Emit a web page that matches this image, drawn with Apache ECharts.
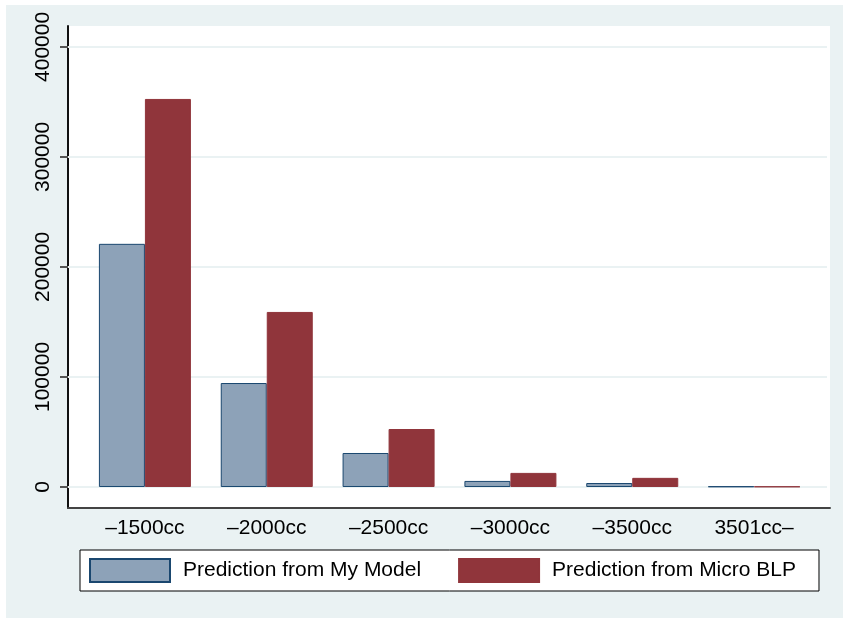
<!DOCTYPE html>
<html>
<head>
<meta charset="utf-8">
<script src="https://cdn.jsdelivr.net/npm/echarts@6/dist/echarts.min.js"></script>
<style>
html,body{margin:0;padding:0;background:#fff;}
#chart{width:843px;height:618px;}
</style>
</head>
<body>
<div id="chart"></div>
<script>
var categories = ["\u20131500cc","\u20132000cc","\u20132500cc","\u20133000cc","\u20133500cc","3501cc\u2013"];
var myModel = [221000, 94500, 30900, 5500, 3600, 500];
var microBLP = [352700, 159100, 52700, 12800, 8300, 400];
var yTicks = [0, 100000, 200000, 300000, 400000];
var seriesNames = ["Prediction from My Model","Prediction from Micro BLP"];

var yMin = -19100, yMax = 419000;
var font = "Liberation Sans, Arial, sans-serif";

var chart = echarts.init(document.getElementById("chart"));
var option = {
	backgroundColor: "#EAF2F3",
	animation: false,
	graphic: [
		{type:"rect", shape:{x:0,y:0,width:843,height:5}, style:{fill:"#fff"}, silent:true},
		{type:"rect", shape:{x:0,y:0,width:6,height:618}, style:{fill:"#fff"}, silent:true}
	],
	grid: [
		{left:68, right:13, top:26, bottom:110, show:true, backgroundColor:"#fff", borderWidth:0},
		{left:84, right:28, top:26, bottom:110}
	],
	xAxis: [
		{gridIndex:0, type:"value", min:0, max:1,
		 axisLine:{show:true, onZero:false, lineStyle:{color:"#444", width:2}},
		 axisTick:{show:false}, axisLabel:{show:false}, splitLine:{show:false}},
		{gridIndex:1, type:"category", data:categories,
		 axisLine:{show:false, onZero:false}, axisTick:{show:false},
		 axisLabel:{color:"#000", fontSize:21, fontFamily:font, margin:10}}
	],
	yAxis: [
		{gridIndex:0, type:"value", min:yMin, max:yMax,
		 axisLine:{show:true, onZero:false, lineStyle:{color:"#111", width:2}},
		 axisTick:{show:true, length:8, customValues:yTicks, lineStyle:{color:"#555", width:2}},
		 axisLabel:{show:true, rotate:90, customValues:yTicks, color:"#000", fontSize:21, fontFamily:font, margin:14,
		  formatter:function(v){ return String(v); }},
		 splitLine:{show:false}},
		{gridIndex:1, type:"value", min:yMin, max:yMax, show:false, splitLine:{show:false}},
		{gridIndex:0, type:"value", min:yMin, max:yMax, position:"left",
		 axisLine:{show:false, onZero:false}, axisLabel:{show:false}, splitLine:{show:false},
		 axisTick:{show:true, inside:true, length:759, customValues:yTicks, lineStyle:{color:"#EAF2F3", width:2}}}
	],
	legend: {
		data: seriesNames,
		icon: "rect",
		left: 80, top: 550,
		padding: [8, 23, 8, 9],
		itemWidth: 80, itemHeight: 23, itemGap: 37,
		borderColor: "#000", borderWidth: 1, borderRadius: 0,
		backgroundColor: "#fff",
		textStyle: {color:"#000", fontSize:21, fontFamily:font, padding:[0,0,0,8]}
	},
	series: [
		{name:seriesNames[0], type:"bar", xAxisIndex:1, yAxisIndex:1, data:myModel,
		 barWidth:46, barGap:"0%",
		 itemStyle:{color:"#8DA2B8", borderColor:"#1A476F", borderWidth:1}},
		{name:seriesNames[1], type:"bar", xAxisIndex:1, yAxisIndex:1, data:microBLP,
		 barWidth:46, barGap:"0%",
		 itemStyle:{color:"#90353B", borderColor:"#90353B", borderWidth:1}}
	]
};
chart.setOption(option);
</script>
</body>
</html>
